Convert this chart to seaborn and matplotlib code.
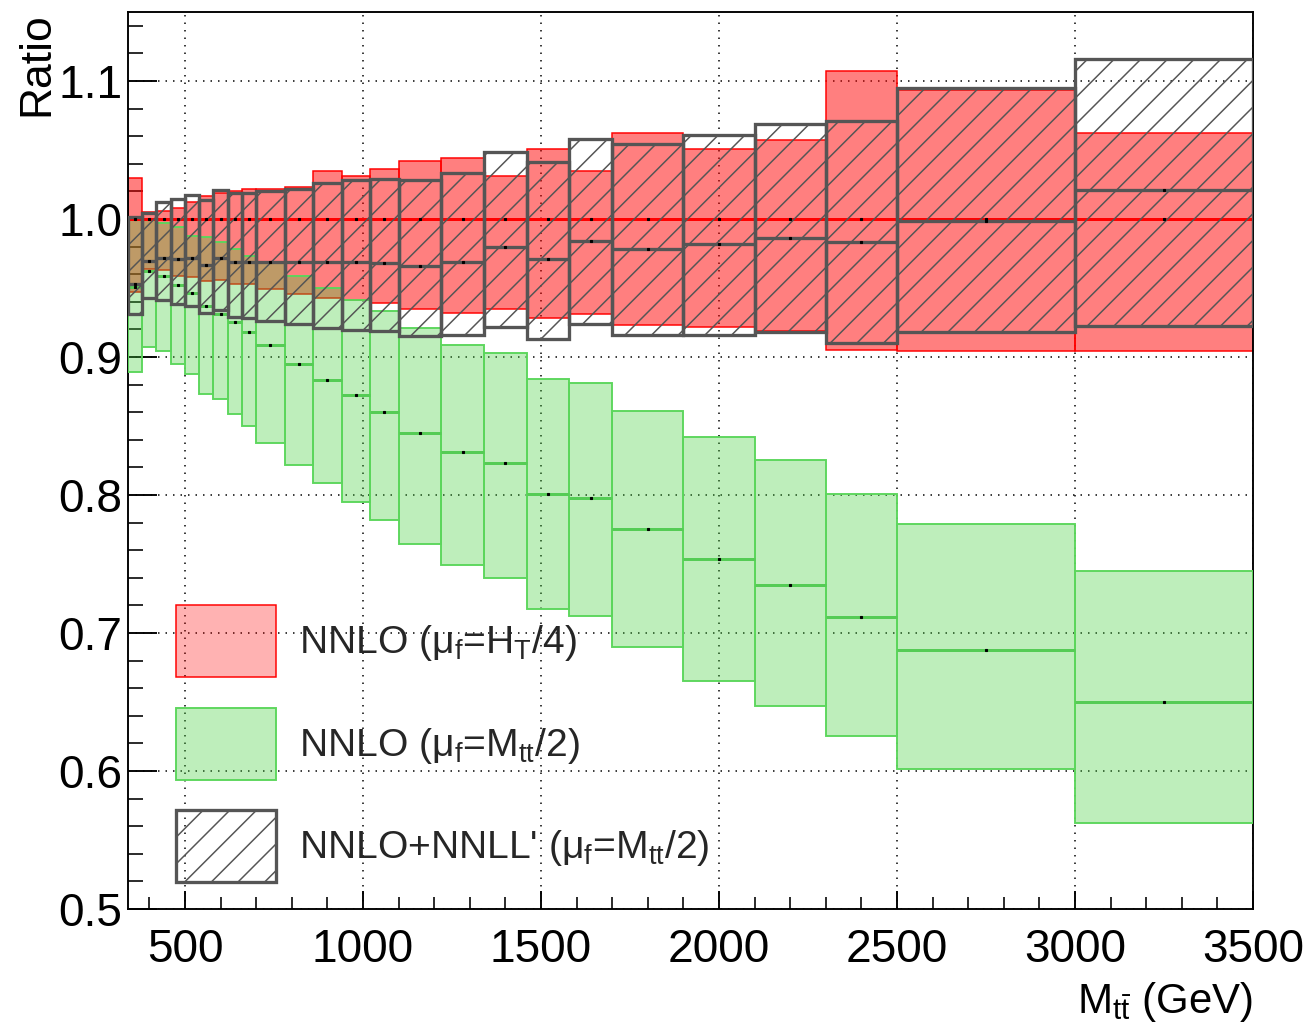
#Ratio of NNLO / NNLO+NNLL' predictions to NNLO (mu_f = H_T/4) in bins of M_tt
#Values.

#Dependencies
import numpy as np
import matplotlib
matplotlib.use("Agg")
import matplotlib.pyplot as plt
import seaborn as sns
from matplotlib.patches import Patch
from matplotlib.ticker import MultipleLocator, FormatStrFormatter

#Bin edges in GeV
edges = [340, 380, 420, 460, 500, 540, 580, 620, 660, 700, 780, 860, 940, 1020,
         1100, 1220, 1340, 1460, 1580, 1700, 1900, 2100, 2300, 2500, 3000, 3500]

#NNLO (mu_f = H_T/4): reference, so central is 1
red_mid = [1.0] * 25
red_hi = [1.0295, 1.005, 1.006, 1.008, 1.012, 1.017, 1.019, 1.020, 1.0215, 1.022,
          1.023, 1.035, 1.031, 1.036, 1.042, 1.044, 1.031, 1.0505, 1.035, 1.062,
          1.051, 1.057, 1.107, 1.0935, 1.062]
red_lo = [0.947, 0.9635, 0.963, 0.959, 0.958, 0.955, 0.956, 0.953, 0.953, 0.949,
          0.946, 0.943, 0.941, 0.939, 0.935, 0.932, 0.935, 0.928, 0.931, 0.923,
          0.9215, 0.919, 0.905, 0.9046, 0.9046]

#NNLO (mu_f = M_tt/2)
green_mid = [0.951, 0.962, 0.959, 0.952, 0.9466, 0.937, 0.931, 0.925, 0.918, 0.909,
             0.895, 0.883, 0.8725, 0.860, 0.845, 0.831, 0.8234, 0.801, 0.7976, 0.775,
             0.7534, 0.7348, 0.7114, 0.6877, 0.650]
green_hi = [1.0, 0.999, 0.997, 0.994, 0.988, 0.987, 0.983, 0.978, 0.973, 0.968,
            0.959, 0.950, 0.941, 0.933, 0.921, 0.909, 0.903, 0.884, 0.881, 0.861,
            0.842, 0.8254, 0.8005, 0.779, 0.745]
green_lo = [0.889, 0.9075, 0.9046, 0.895, 0.8875, 0.873, 0.8696, 0.8587, 0.850, 0.838,
            0.822, 0.8085, 0.7947, 0.782, 0.7645, 0.749, 0.7396, 0.7172, 0.7125, 0.690,
            0.6655, 0.6473, 0.6254, 0.6014, 0.5623]

#NNLO+NNLL' (mu_f = M_tt/2)
gray_mid = [0.953, 0.9698, 0.972, 0.971, 0.9715, 0.967, 0.972, 0.969, 0.969, 0.969,
            0.969, 0.969, 0.969, 0.968, 0.966, 0.9686, 0.9795, 0.971, 0.984, 0.978,
            0.9817, 0.9865, 0.983, 0.9986, 1.021]
gray_hi = [1.0017, 1.0046, 1.0126, 1.0143, 1.0174, 1.0138, 1.021, 1.019, 1.019, 1.0205,
           1.0215, 1.026, 1.028, 1.029, 1.028, 1.0336, 1.0488, 1.0415, 1.058, 1.054,
           1.061, 1.069, 1.071, 1.095, 1.1157]
gray_lo = [0.931, 0.943, 0.941, 0.9384, 0.937, 0.9317, 0.934, 0.929, 0.928, 0.926,
           0.9237, 0.921, 0.9196, 0.919, 0.915, 0.916, 0.922, 0.913, 0.924, 0.916,
           0.916, 0.918, 0.910, 0.918, 0.9227]

legend_labels = ["NNLO (μ$_{\\mathrm{f}}$=H$_{\\mathrm{T}}$/4)",
                 "NNLO (μ$_{\\mathrm{f}}$=M$_{\\mathrm{tt}}$/2)",
                 "NNLO+NNLL' (μ$_{\\mathrm{f}}$=M$_{\\mathrm{tt}}$/2)"]

#Low dpi so the hatch lines come out denser (hatch unit = 1 inch)
DPI = 80
def px(n):
    #pixels -> points
    return n * 72.0 / DPI

#Style
sns.set_theme(style="ticks")
plt.rcParams['font.family'] = ['Liberation Sans', 'DejaVu Sans']
plt.rcParams['mathtext.fontset'] = 'custom'
plt.rcParams['mathtext.rm'] = 'Liberation Sans'
plt.rcParams['mathtext.it'] = 'Liberation Sans:italic'
plt.rcParams['hatch.linewidth'] = px(1.5)
plt.rcParams['hatch.color'] = '#555555'

red_fill = (1.0, 0.0, 0.0, 0.5)
green_fill = (0.27, 0.81, 0.24, 0.35)
green_edge = '#5cd65c'
gray_col = '#555555'

fig = plt.figure(figsize=(1309 / DPI, 1033 / DPI), dpi=DPI)
ax = fig.add_axes([128 / 1309, 1 - 909 / 1033, 1125 / 1309, 897 / 1033])

left = np.array(edges[:-1])
width = np.diff(edges)
right = left + width
centre = left + width / 2

#Bands
ax.bar(left, np.array(red_hi) - np.array(red_lo), width, bottom=red_lo, align='edge',
       color=red_fill, edgecolor='red', linewidth=px(1.5), zorder=2)
ax.bar(left, np.array(green_hi) - np.array(green_lo), width, bottom=green_lo, align='edge',
       color=green_fill, edgecolor=green_edge, linewidth=px(1.9), zorder=3)

#Central values
ax.hlines(red_mid, left, right, color='red', linewidth=px(3), zorder=4)
ax.hlines(green_mid, left, right, color='#55cc55', linewidth=px(3), zorder=4)

#Resummed boxes, hatched
ax.bar(left, np.array(gray_hi) - np.array(gray_lo), width, bottom=gray_lo, align='edge',
       facecolor='none', edgecolor=gray_col, hatch='/', linewidth=px(3.3), zorder=5)
ax.hlines(gray_mid, left, right, color=gray_col, linewidth=px(3.3), zorder=6)

#little markers at bin centres
for mid in (red_mid, green_mid, gray_mid):
    ax.plot(centre, mid, 's', ms=px(2.2), color='black', zorder=7)

#Axes
ax.set_xlim(340, 3500)
ax.set_ylim(0.5, 1.15)
ax.xaxis.set_major_locator(MultipleLocator(500))
ax.xaxis.set_minor_locator(MultipleLocator(100))
ax.yaxis.set_major_locator(MultipleLocator(0.1))
ax.yaxis.set_minor_locator(MultipleLocator(0.02))
ax.yaxis.set_major_formatter(FormatStrFormatter('%.1f'))
ax.grid(True, which='major', color='black', linestyle=(0, (1, 4)), linewidth=px(1.5))
ax.set_axisbelow(True)

for s in ax.spines.values():
    s.set_linewidth(px(1.9))
    s.set_color('black')
ax.tick_params(axis='x', which='major', direction='in', length=px(18), width=px(1.9),
               labelsize=px(46), pad=px(19), colors='black')
ax.tick_params(axis='x', which='minor', direction='in', length=px(12), width=px(1.9))
ax.tick_params(axis='y', which='major', direction='in', length=px(29), width=px(1.9),
               labelsize=px(46), pad=px(5.5), colors='black')
ax.tick_params(axis='y', which='minor', direction='in', length=px(15), width=px(1.9))

ax.set_xlabel("M$_{\\mathrm{t\\bar{t}}}$ (GeV)", fontsize=px(42), loc='right', color='black',
              labelpad=px(8))
ax.set_ylabel("Ratio", fontsize=px(44.5), loc='top', color='black')
ax.yaxis.set_label_coords(-0.063, 1.0)

#Legend
handles = [Patch(facecolor=(1.0, 0.0, 0.0, 0.3), edgecolor='red', linewidth=px(1.5)),
           Patch(facecolor=green_fill, edgecolor=green_edge, linewidth=px(1.9)),
           Patch(facecolor='none', edgecolor=gray_col, hatch='/', linewidth=px(3.3))]
ax.legend(handles, legend_labels, loc='upper left', bbox_to_anchor=(0.0427, 0.339),
          frameon=False, fontsize=px(39), handlelength=2.56, handleheight=2.47,
          handletextpad=0.6, labelspacing=0.78, borderpad=0, borderaxespad=0)

plt.savefig("out.png", dpi=DPI)
